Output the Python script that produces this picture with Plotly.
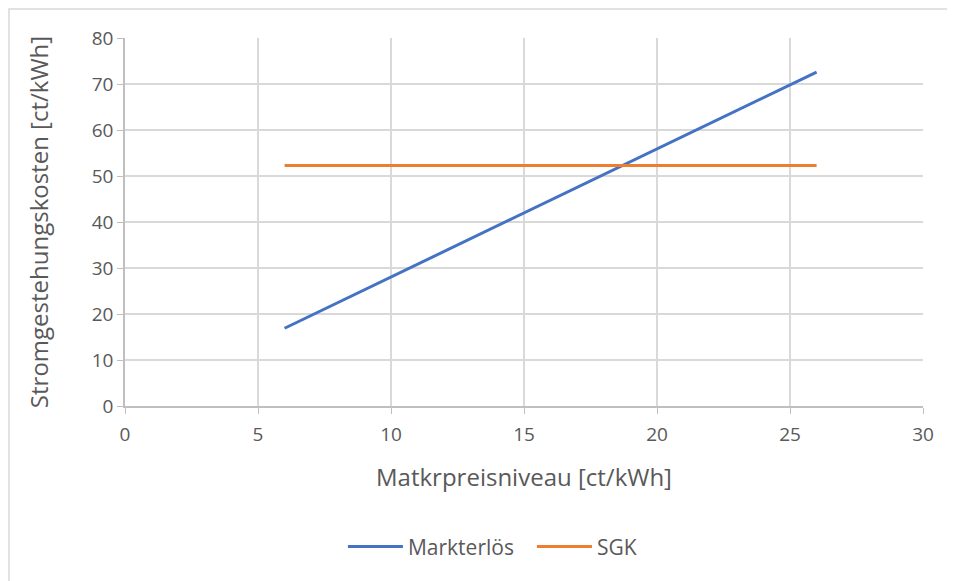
import plotly.graph_objects as go

x_vals = [6, 26]
markterloes = [16.9, 72.6]
sgk = [52.3, 52.3]
x_ticks = [0, 5, 10, 15, 20, 25, 30]
y_ticks = [0, 10, 20, 30, 40, 50, 60, 70, 80]

font_family = "Open Sans, Liberation Sans, sans-serif"
txt = "#595959"

W, H = 939, 573
L, R, T = 117, 24, 30
PH = 368
B = H - T - PH

fig = go.Figure()
fig.add_trace(go.Scatter(x=x_vals, y=markterloes, mode="lines", name="Markterlös",
                         line=dict(color="#4472C4", width=3)))
fig.add_trace(go.Scatter(x=x_vals, y=sgk, mode="lines", name="SGK",
                         line=dict(color="#ED7D31", width=3)))

fig.update_layout(
    width=W, height=H,
    margin=dict(l=L, r=R, t=T, b=B),
    paper_bgcolor="white", plot_bgcolor="white",
    font=dict(family=font_family, color=txt, size=19),
    showlegend=True,
    legend=dict(orientation="h", x=0.2731, xanchor="left", y=-0.383, yanchor="middle",
                font=dict(size=21, color=txt), itemwidth=55, entrywidth=119,
                tracegroupgap=0),
    xaxis=dict(range=[0, 30], tickvals=x_ticks, showgrid=True, gridcolor="#d9d9d9", gridwidth=1.5,
               showline=True, linecolor="#bfbfbf", linewidth=1.5, ticks="outside", ticklen=6,
               tickcolor="#bfbfbf", zeroline=False, ticklabelstandoff=4,
               title=dict(text="Matkrpreisniveau [ct/kWh]", font=dict(size=24, color=txt), standoff=24),
               tickfont=dict(size=19, color=txt)),
    yaxis=dict(range=[0, 80], tickvals=y_ticks, showgrid=True, gridcolor="#d9d9d9", gridwidth=1.5,
               showline=True, linecolor="#bfbfbf", linewidth=1.5, ticks="outside", ticklen=6,
               tickcolor="#bfbfbf", zeroline=False,
               title=dict(text="Stromgestehungskosten [ct/kWh]", font=dict(size=24, color=txt), standoff=36),
               tickfont=dict(size=19, color=txt)),
)

# outer chart border (Excel chart area)
fig.add_shape(type="rect", xref="paper", yref="paper",
              x0=(1 - L) / 798, x1=(W + 20 - L) / 798,
              y0=(T + PH - (H + 20)) / PH, y1=(T + PH - 1) / PH,
              line=dict(color="#d9d9d9", width=1.5), layer="below")

fig.write_html("out.html")
